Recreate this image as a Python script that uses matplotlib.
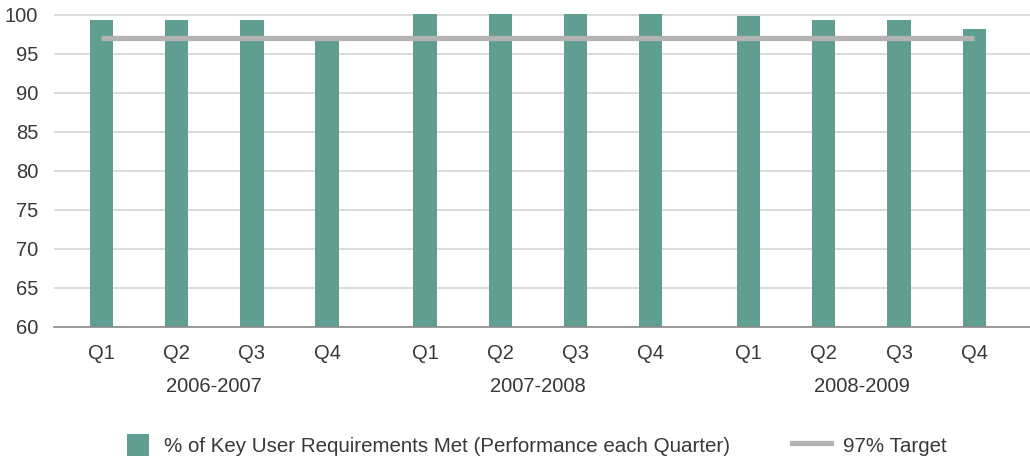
import matplotlib
matplotlib.use("Agg")
import matplotlib.pyplot as plt
from matplotlib.patches import Patch, Rectangle
from matplotlib.lines import Line2D
from matplotlib.legend_handler import HandlerPatch
from matplotlib.transforms import blended_transform_factory

plt.rcParams['font.family'] = ['Liberation Sans', 'DejaVu Sans']

groups = ["2006-2007", "2007-2008", "2008-2009"]
quarters = ["Q1", "Q2", "Q3", "Q4"]
performance = [99.4, 99.4, 99.4, 96.8,
               100.1, 100.1, 100.1, 100.1,
               99.9, 99.4, 99.4, 98.2]
target = [97] * 12
series_label = "% of Key User Requirements Met (Performance each Quarter)"
target_label = "97% Target"

bar_color = "#609e91"
target_color = "#b3b3b3"
text_color = "#383838"
fs = 14.5

group_gap = 0.3
xpos = []
for g in range(len(groups)):
    for q in range(len(quarters)):
        xpos.append(g * (len(quarters) + group_gap) + q)

ytop = 100.4
px_per_unit = 312 / 40
top_px = 15 - (ytop - 100) * px_per_unit
fig = plt.figure(figsize=(10.30, 4.62), dpi=100)
ax = fig.add_axes([54/1030, 1 - 327/462, 1 - 54/1030, (327 - top_px)/462])

ax.bar(xpos, performance, width=0.31, bottom=0, color=bar_color, zorder=2)
ax.plot(xpos, target, color=target_color, lw=3.8, zorder=3, solid_capstyle='butt')

ax.set_ylim(60, ytop)
ax.set_xlim(xpos[0] - 0.63, xpos[-1] + 0.74)
ax.set_yticks(range(60, 101, 5))
ax.yaxis.grid(True, color="#d4d4d4", lw=1.2, zorder=0)
ax.set_axisbelow(True)
for s in ["top", "right", "left"]:
    ax.spines[s].set_visible(False)
ax.spines["bottom"].set_color("#8a8a8a")
ax.spines["bottom"].set_linewidth(1.2)
ax.spines["bottom"].set_zorder(4)

ax.set_xticks(xpos)
ax.set_xticklabels(quarters * len(groups))
ax.tick_params(axis='both', length=0, labelsize=fs, labelcolor=text_color)
ax.tick_params(axis='x', pad=12)
ax.tick_params(axis='y', pad=11.5)

trans = blended_transform_factory(ax.transData, fig.transFigure)
for g, name in enumerate(groups):
    xs = xpos[g * 4:(g + 1) * 4]
    ax.text(sum(xs) / len(xs), 1 - 387/462, name, transform=trans,
            ha='center', va='center', fontsize=fs, color=text_color)

px = 72 / 100  # points per pixel


def square_patch(legend, orig_handle, xdescent, ydescent, width, height, fontsize):
    side = 22 * px
    x0 = -xdescent + width - side - 3 * px
    y0 = -ydescent + (height - side) / 2
    return Rectangle((x0, y0), side, side)


handles = [Patch(facecolor=bar_color, edgecolor='none'),
           Line2D([0], [0], color=target_color, lw=3.8)]
fig.legend(handles, [series_label, target_label], loc='center',
           bbox_to_anchor=(530/1030, 1 - 445/462), ncol=2, frameon=False,
           prop={'size': 14.75}, labelcolor=text_color, columnspacing=3.0,
           handlelength=1.89, handleheight=1.2, handletextpad=0.6,
           handler_map={Patch: HandlerPatch(patch_func=square_patch)})

fig.savefig("out.png", dpi=100)
